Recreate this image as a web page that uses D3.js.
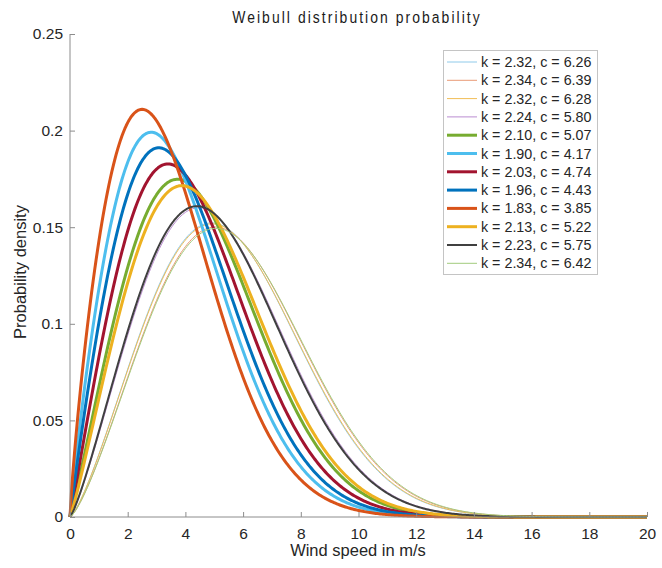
<!DOCTYPE html>
<html>
<head>
<meta charset="utf-8">
<script src="https://cdn.jsdelivr.net/npm/d3@7"></script>
<style>
  body { margin: 0; background: #fff; }
  svg { display: block; font-family: "Liberation Sans", Arial, sans-serif; }
</style>
</head>
<body>
<div id="chart"></div>
<script>
// Weibull parameters, in legend order
const shapeK = [2.32, 2.34, 2.32, 2.24, 2.10, 1.90, 2.03, 1.96, 1.83, 2.13, 2.23, 2.34]
const scaleC = [6.26, 6.39, 6.28, 5.80, 5.07, 4.17, 4.74, 4.43, 3.85, 5.22, 5.75, 6.42]
const colors = ["#8fcaea", "#e99a76", "#f1bd55", "#bb8dd1", "#77ac30", "#4dbeee",
                "#a2142f", "#0072bd", "#d95319", "#edb120", "#404040", "#a2cb7c"]
const widths = [1, 1, 1, 1, 3, 3, 3, 3, 3, 3, 2, 1]
const xTicks = [0, 2, 4, 6, 8, 10, 12, 14, 16, 18, 20]
const yTicks = [0, 0.05, 0.1, 0.15, 0.2, 0.25]
const yTickLabels = ["0", "0.05", "0.1", "0.15", "0.2", "0.25"]

const width = 662, height = 568
const svg = d3.select("#chart").append("svg")
  .attr("width", width)
  .attr("height", height)

const x = d3.scaleLinear().domain([0, 20]).range([70, 647])
const y = d3.scaleLinear().domain([0, 0.25]).range([517, 34])

const weibull = (v, k, c) => (k / c) * Math.pow(v / c, k - 1) * Math.exp(-Math.pow(v / c, k))
const grid = d3.range(0, 20.0001, 0.05)

const series = shapeK.map((k, i) => ({
  label: `k = ${k.toFixed(2)}, c = ${scaleC[i].toFixed(2)}`,
  color: colors[i],
  width: widths[i],
  points: grid.map(v => [v, weibull(v, k, scaleC[i])])
}))

const line = d3.line().x(d => x(d[0])).y(d => y(d[1]))

svg.append("g")
  .selectAll("path")
  .data(series)
  .join("path")
  .attr("d", d => line(d.points))
  .attr("fill", "none")
  .attr("stroke", d => d.color)
  .attr("stroke-width", d => d.width)
  .attr("stroke-linejoin", "round")

// Axes (MATLAB style, ticks pointing in)
const axisColor = "#8c8c8c"
const xAxis = svg.append("g")
  .attr("transform", `translate(0,${y(0)})`)
  .call(d3.axisBottom(x).tickValues(xTicks).tickSize(-5).tickPadding(11).tickFormat(d3.format("d")))
const yAxis = svg.append("g")
  .attr("transform", `translate(${x(0)},0)`)
  .call(d3.axisLeft(y).tickValues(yTicks).tickSize(-5).tickPadding(7).tickFormat((d, i) => yTickLabels[i]))

for (const ax of [xAxis, yAxis]) {
  ax.select(".domain").remove()
  ax.selectAll(".tick line").attr("stroke", axisColor)
  ax.selectAll(".tick text").attr("fill", "#262626").attr("font-size", 15.5)
    .attr("font-family", "'Liberation Sans', Arial, sans-serif")
}
xAxis.append("line").attr("x1", x(0)).attr("x2", x(20)).attr("stroke", axisColor)
yAxis.append("line").attr("y1", y(0)).attr("y2", y(0.25)).attr("stroke", axisColor)

// Labels
svg.append("text")
  .attr("x", 358)
  .attr("y", 556)
  .attr("text-anchor", "middle")
  .attr("font-size", 16.5)
  .attr("fill", "#262626")
  .text("Wind speed in m/s")

svg.append("text")
  .attr("transform", "translate(26,272) rotate(-90)")
  .attr("text-anchor", "middle")
  .attr("font-size", 16.5)
  .attr("fill", "#262626")
  .text("Probability density")

svg.append("text")
  .attr("transform", "translate(357,23) scale(0.82,1)")
  .attr("text-anchor", "middle")
  .attr("font-size", 17)
  .attr("letter-spacing", 2.5)
  .attr("fill", "#1a1a1a")
  .text("Weibull distribution probability")

// Legend
const legend = svg.append("g")
legend.append("rect")
  .attr("x", 443.5).attr("y", 50.5)
  .attr("width", 154).attr("height", 224)
  .attr("fill", "#fff")
  .attr("stroke", "#c4c4c4")

const row = legend.selectAll("g.row")
  .data(series)
  .join("g")
  .attr("class", "row")
  .attr("transform", (d, i) => `translate(0,${62 + i * 18.3})`)

row.append("line")
  .attr("x1", 447).attr("x2", 477)
  .attr("stroke", d => d.color)
  .attr("stroke-width", d => d.width)

row.append("text")
  .attr("x", 481)
  .attr("dy", "0.35em")
  .attr("font-size", 14.3)
  .attr("fill", "#262626")
  .text(d => d.label)
</script>
</body>
</html>
